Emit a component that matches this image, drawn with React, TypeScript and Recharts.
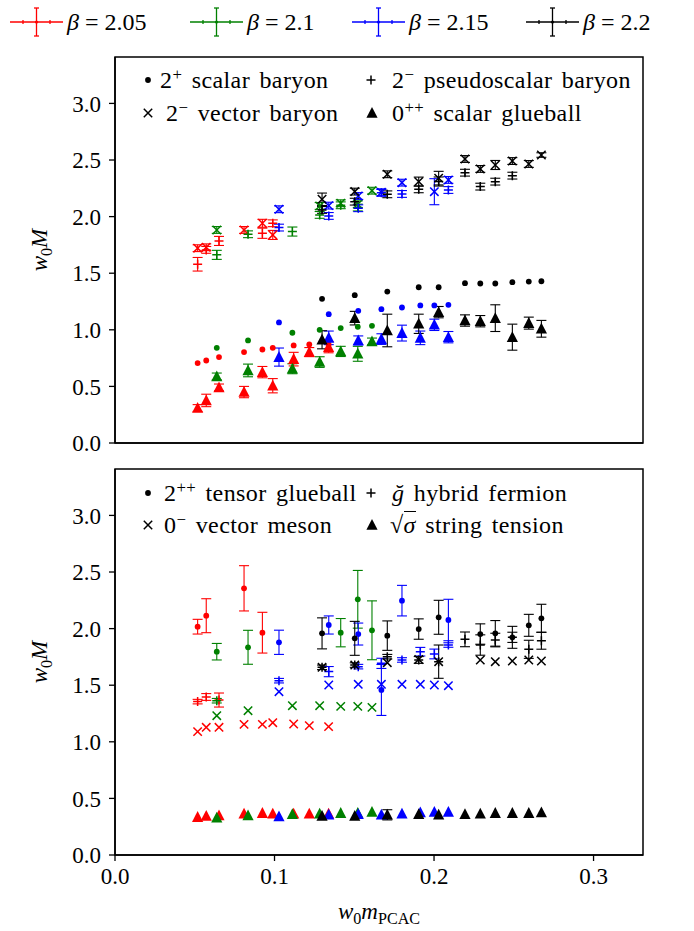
import type { ReactNode } from "react";
import { ComposedChart, Scatter, XAxis, YAxis, ErrorBar, ReferenceArea } from "recharts";

type Pt = [number, number] | null; // [value, error]
type Kind = "circle" | "plus" | "cross" | "tri";

const SERIF = '"Liberation Serif", "Times New Roman", serif';
const FS = 23;
const LEGEND_FS = 24;

const X_MAX = 0.331;
const Y_MAX = 3.41;
const xTicks = [0, 0.1, 0.2, 0.3];
const yTicks = [0, 0.5, 1, 1.5, 2, 2.5, 3];

const betaLabels = ["2.05", "2.1", "2.15", "2.2"];
const betaColors = ["#ff0000", "#008000", "#0000ff", "#000000"];

// w0 * m_PCAC of each ensemble
const mpcac205 = [0.0518, 0.0572, 0.0652, 0.0809, 0.0924, 0.0989, 0.112, 0.1218, 0.1339];
const mpcac210 = [0.0638, 0.0834, 0.1112, 0.1283, 0.1415, 0.1522, 0.1611];
const mpcac215 = [0.1028, 0.134, 0.1525, 0.167, 0.1799, 0.1914, 0.2002, 0.209];
const mpcac220 = [0.1298, 0.1503, 0.1707, 0.1904, 0.2029, 0.2194, 0.229, 0.2384, 0.2491, 0.2594, 0.2673];

// beta = 2.05
const scalarBaryon205: Pt[] = [[0.706, 0], [0.729, 0], [0.759, 0], [0.803, 0], [0.826, 0], [0.841, 0], [0.862, 0], [0.871, 0], [0.87, 0]];
const pseudoBaryon205: Pt[] = [[1.579, 0.06], [1.706, 0.03], [1.785, 0.04], null, [1.853, 0.045], [1.941, 0.03], null, null, null];
const vectorBaryon205: Pt[] = [[1.721, 0.03], [1.729, 0.03], null, [1.882, 0.03], [1.941, 0.035], [1.838, 0.04], null, null, null];
const scalarGlue205: Pt[] = [[0.309, 0.03], [0.376, 0.055], [0.491, 0.03], [0.45, 0.05], [0.626, 0.05], [0.506, 0.063], [0.741, 0.06], [0.803, 0.04], [0.847, 0.05]];
const tensorGlue205: Pt[] = [[2.017, 0.065], [2.114, 0.15], null, [2.356, 0.2], [1.964, 0.18], null, null, null, null];
const hybrid205: Pt[] = [[1.355, 0.02], [1.396, 0.03], [1.369, 0.062], null, null, null, null, null, null];
const vectorMeson205: Pt[] = [[1.09, 0], [1.128, 0], [1.128, 0], [1.154, 0], [1.154, 0], [1.169, 0], [1.157, 0], [1.143, 0], [1.134, 0]];
const stringTension205: Pt[] = [[0.335, 0], [0.345, 0], [0.35, 0], [0.365, 0], [0.37, 0], [0.365, 0], [0.365, 0], [0.365, 0], [0.365, 0]];

// beta = 2.1
const scalarBaryon210: Pt[] = [[0.841, 0], [0.906, 0], [0.974, 0], [1.0, 0], [1.015, 0], [1.026, 0], [1.035, 0]];
const pseudoBaryon210: Pt[] = [[1.662, 0.04], [1.844, 0.03], [1.868, 0.04], [2.015, 0.03], [2.1, 0.03], [2.08, 0.03], null];
const vectorBaryon210: Pt[] = [[1.882, 0.03], null, null, [2.094, 0.03], [2.118, 0.03], [2.109, 0.03], [2.229, 0.03]];
const scalarGlue210: Pt[] = [[0.588, 0.03], [0.641, 0.056], [0.656, 0.044], [0.715, 0.047], [0.809, 0.045], [0.788, 0.066], [0.897, 0.03]];
const tensorGlue210: Pt[] = [[1.796, 0.073], [1.835, 0.15], null, null, [1.964, 0.125], [2.259, 0.255], [1.985, 0.26]];
const hybrid210: Pt[] = [[1.363, 0.02], null, null, null, null, null, null];
const vectorMeson210: Pt[] = [[1.231, 0], [1.275, 0], [1.319, 0], [1.319, 0], [1.313, 0], [1.313, 0], [1.304, 0]];
const stringTension210: Pt[] = [[0.33, 0], [0.35, 0], [0.36, 0], [0.365, 0], [0.37, 0], [0.37, 0], [0.38, 0]];

// beta = 2.15
const scalarBaryon215: Pt[] = [[1.065, 0], [1.138, 0], [1.168, 0], [1.182, 0], [1.197, 0], [1.215, 0], [1.215, 0], [1.221, 0]];
const pseudoBaryon215: Pt[] = [[1.903, 0.03], [2.006, 0.03], [2.074, 0.03], [2.21, 0.03], [2.2, 0.03], null, null, [2.235, 0.03]];
const vectorBaryon215: Pt[] = [[2.065, 0.03], [2.097, 0.03], [2.182, 0.03], [2.215, 0.03], [2.3, 0.03], null, [2.22, 0.115], [2.324, 0.03]];
const scalarGlue215: Pt[] = [[0.759, 0.08], [0.929, 0.06], [0.906, 0.04], [0.918, 0.047], [0.971, 0.07], [0.929, 0.06], [1.044, 0.05], [0.935, 0.05]];
const tensorGlue215: Pt[] = [[1.879, 0.107], [2.032, 0.08], [1.952, 0.097], [1.458, 0.225], [2.247, 0.135], null, null, [2.076, 0.183]];
const hybrid215: Pt[] = [[1.54, 0.02], [1.62, 0.045], [1.664, 0.02], [1.693, 0.045], [1.723, 0.02], [1.796, 0.038], [1.776, 0.043], [1.855, 0.02]];
const vectorMeson215: Pt[] = [[1.443, 0], [1.502, 0], [1.508, 0], [1.508, 0], [1.508, 0], [1.508, 0], [1.502, 0], [1.496, 0]];
const stringTension215: Pt[] = [[0.34, 0], [0.355, 0], [0.36, 0], [0.355, 0], [0.365, 0], [0.375, 0], [0.38, 0], [0.38, 0]];

// beta = 2.2
const scalarBaryon220: Pt[] = [[1.274, 0], [1.306, 0], [1.338, 0], [1.376, 0], [1.376, 0], [1.412, 0], [1.409, 0], [1.409, 0], [1.421, 0], [1.426, 0], [1.429, 0]];
const pseudoBaryon220: Pt[] = [[2.059, 0.03], [2.132, 0.03], [2.197, 0.03], [2.241, 0.03], [2.31, 0.04], [2.388, 0.03], [2.265, 0.03], [2.309, 0.03], [2.362, 0.03], null, null];
const vectorBaryon220: Pt[] = [[2.153, 0.055], [2.221, 0.03], [2.374, 0.03], [2.309, 0.04], [2.34, 0.06], [2.509, 0.03], [2.421, 0.03], [2.456, 0.04], [2.491, 0.03], [2.465, 0.03], [2.544, 0.02]];
const scalarGlue220: Pt[] = [[0.912, 0.08], [1.103, 0.06], [0.994, 0.144], [1.053, 0.085], [1.156, 0.05], [1.082, 0.05], [1.076, 0.05], [1.103, 0.118], [0.935, 0.115], [1.059, 0.053], [1.009, 0.074]];
const tensorGlue220: Pt[] = [[1.958, 0.137], [1.914, 0.15], [1.938, 0.13], [1.996, 0.09], [2.1, 0.15], null, [1.952, 0.09], [1.958, 0.113], [1.923, 0.097], [2.029, 0.097], [2.091, 0.124]];
const hybrid220: Pt[] = [[1.658, 0.02], [1.678, 0.02], [1.752, 0.02], [1.723, 0.03], [1.708, 0.147], [1.905, 0.065], [1.855, 0.09], [1.899, 0.06], [1.923, 0.045], [1.817, 0.08], [1.893, 0.075]];
const vectorMeson220: Pt[] = [[1.658, 0], [1.678, 0], [1.699, 0], [1.728, 0], [1.708, 0], null, [1.723, 0], [1.708, 0], [1.714, 0], [1.723, 0], [1.714, 0]];
const stringTension220: Pt[] = [[0.345, 0], [0.345, 0], [0.355, 0.045], [0.36, 0], [0.355, 0], [0.36, 0], [0.365, 0], [0.37, 0], [0.37, 0], [0.37, 0], [0.375, 0]];

const mpcac = [mpcac205, mpcac210, mpcac215, mpcac220];

const topSets: { kind: Kind; values: Pt[][] }[] = [
  { kind: "circle", values: [scalarBaryon205, scalarBaryon210, scalarBaryon215, scalarBaryon220] },
  { kind: "plus", values: [pseudoBaryon205, pseudoBaryon210, pseudoBaryon215, pseudoBaryon220] },
  { kind: "cross", values: [vectorBaryon205, vectorBaryon210, vectorBaryon215, vectorBaryon220] },
  { kind: "tri", values: [scalarGlue205, scalarGlue210, scalarGlue215, scalarGlue220] },
];

const bottomSets: { kind: Kind; values: Pt[][] }[] = [
  { kind: "circle", values: [tensorGlue205, tensorGlue210, tensorGlue215, tensorGlue220] },
  { kind: "plus", values: [hybrid205, hybrid210, hybrid215, hybrid220] },
  { kind: "cross", values: [vectorMeson205, vectorMeson210, vectorMeson215, vectorMeson220] },
  { kind: "tri", values: [stringTension205, stringTension210, stringTension215, stringTension220] },
];

type Series = { key: string; kind: Kind; color: string; points: { x: number; y: number; err: number }[] };

function buildSeries(sets: { kind: Kind; values: Pt[][] }[]): Series[] {
  const out: Series[] = [];
  betaColors.forEach((color, b) => {
    sets.forEach((set) => {
      const points = set.values[b]
        .map((v, i) => (v ? { x: mpcac[b][i], y: v[0], err: v[1] } : null))
        .filter((p): p is { x: number; y: number; err: number } => p !== null);
      out.push({ key: `${set.kind}-${b}`, kind: set.kind, color, points });
    });
  });
  return out;
}

function Marker({ kind, cx, cy, color }: { kind: Kind; cx: number; cy: number; color: string }) {
  if (cx == null || cy == null) return <g />;
  switch (kind) {
    case "circle":
      return <circle cx={cx} cy={cy} r={2.9} fill={color} />;
    case "plus":
      return (
        <path d={`M${cx - 4.5},${cy}H${cx + 4.5}M${cx},${cy - 4.5}V${cy + 4.5}`} stroke={color} strokeWidth={1.5} fill="none" />
      );
    case "cross":
      return (
        <path
          d={`M${cx - 4.2},${cy - 4.2}L${cx + 4.2},${cy + 4.2}M${cx - 4.2},${cy + 4.2}L${cx + 4.2},${cy - 4.2}`}
          stroke={color}
          strokeWidth={1.5}
          fill="none"
        />
      );
    default:
      return <path d={`M${cx},${cy - 6}L${cx + 5.6},${cy + 4.8}L${cx - 5.6},${cy + 4.8}Z`} fill={color} />;
  }
}

const tickStyle = { fill: "#000", fontSize: FS, fontFamily: SERIF };

function Panel({ series, height, marginTop, axisHeight, labels }: {
  series: Series[];
  height: number;
  marginTop: number;
  axisHeight: number;
  labels: boolean;
}) {
  return (
    <ComposedChart width={694} height={height} margin={{ top: marginTop, right: 51, bottom: 0, left: 0 }}>
      <XAxis
        type="number"
        dataKey="x"
        domain={[0, X_MAX]}
        ticks={xTicks}
        allowDataOverflow
        height={axisHeight}
        tickSize={6}
        tickMargin={7}
        tick={labels ? tickStyle : false}
        tickFormatter={(v: number) => v.toFixed(1)}
        axisLine={{ stroke: "#000", strokeWidth: 1.5 }}
        tickLine={{ stroke: "#000", strokeWidth: 1.3 }}
      />
      <YAxis
        type="number"
        dataKey="y"
        domain={[0, Y_MAX]}
        ticks={yTicks}
        allowDataOverflow
        width={115}
        tickSize={6}
        tickMargin={8}
        tick={tickStyle}
        tickFormatter={(v: number) => v.toFixed(1)}
        axisLine={{ stroke: "#000", strokeWidth: 1.5 }}
        tickLine={{ stroke: "#000", strokeWidth: 1.3 }}
      />
      <ReferenceArea x1={0} x2={X_MAX} y1={0} y2={Y_MAX} fill="none" stroke="#000" strokeWidth={1.5} />
      {series.map((s) => (
        <Scatter
          key={s.key}
          data={s.points}
          isAnimationActive={false}
          shape={(p: any) => <Marker kind={s.kind} cx={p.cx} cy={p.cy} color={s.color} />}
        >
          {s.points.some((p) => p.err > 0) && (
            <ErrorBar dataKey="err" direction="y" width={5} stroke={s.color} strokeWidth={1.1} isAnimationActive={false} />
          )}
        </Scatter>
      ))}
    </ComposedChart>
  );
}

function LegendItem({ kind, x, y, textX, children }: { kind: Kind; x: number; y: number; textX: number; children: ReactNode }) {
  return (
    <>
      <svg style={{ position: "absolute", left: x - 8, top: y - 8 }} width={16} height={16}>
        <Marker kind={kind} cx={8} cy={8} color="#000" />
      </svg>
      <div
        style={{
          position: "absolute",
          left: textX,
          top: y,
          transform: "translateY(-50%)",
          fontFamily: SERIF,
          fontSize: LEGEND_FS,
          letterSpacing: 0.4,
          wordSpacing: 3,
          lineHeight: 1,
          whiteSpace: "nowrap",
        }}
      >
        {children}
      </div>
    </>
  );
}

const sup = { fontSize: "0.7em", position: "relative" as const, top: "-0.45em" };
const sub = { fontSize: "0.7em", position: "relative" as const, top: "0.3em" };

function W0M({ left, top }: { left: number; top: number }) {
  return (
    <div
      style={{
        position: "absolute",
        left,
        top,
        transform: "translate(-50%, -50%) rotate(-90deg)",
        fontFamily: SERIF,
        fontSize: FS,
        whiteSpace: "nowrap",
      }}
    >
      <i>w</i>
      <span style={sub}>0</span>
      <i>M</i>
    </div>
  );
}

export default function App() {
  const topSeries = buildSeries(topSets);
  const bottomSeries = buildSeries(bottomSets);
  const handleX = [10, 190, 352, 526];

  return (
    <div style={{ position: "absolute", left: 0, top: 0, width: 694, height: 931, background: "#fff", overflow: "hidden" }}>
      <svg style={{ position: "absolute", left: 0, top: 0 }} width={694} height={48}>
        {betaLabels.map((lab, i) => {
          const x0 = handleX[i];
          const c = betaColors[i];
          const mid = x0 + 26.5;
          return (
            <g key={lab}>
              <line x1={x0} x2={x0 + 53} y1={22} y2={22} stroke={c} strokeWidth={1.3} />
              <line x1={mid} x2={mid} y1={8} y2={36} stroke={c} strokeWidth={1.3} />
              <line x1={mid - 2.5} x2={mid + 2.5} y1={8} y2={8} stroke={c} strokeWidth={1.3} />
              <line x1={mid - 2.5} x2={mid + 2.5} y1={36} y2={36} stroke={c} strokeWidth={1.3} />
              <line x1={x0 + 13} x2={x0 + 13} y1={20} y2={24} stroke={c} strokeWidth={1.3} />
              <line x1={x0 + 40} x2={x0 + 40} y1={20} y2={24} stroke={c} strokeWidth={1.3} />
              <circle cx={mid} cy={22} r={1.6} fill={c} />
              <text x={x0 + 57} y={22} dominantBaseline="central" fontFamily={SERIF} fontSize={FS + 1}>
                <tspan fontStyle="italic">β</tspan>
                <tspan> = {lab}</tspan>
              </text>
            </g>
          );
        })}
      </svg>

      <div style={{ position: "absolute", left: 0, top: 0 }}>
        <Panel series={topSeries} height={460} marginTop={57} axisHeight={17} labels={false} />
      </div>
      <div style={{ position: "absolute", left: 0, top: 450 }}>
        <Panel series={bottomSeries} height={481} marginTop={19} axisHeight={76} labels={true} />
      </div>

      <LegendItem kind="circle" x={148} y={80} textX={160}>
        2<span style={sup}>+</span> scalar baryon
      </LegendItem>
      <LegendItem kind="plus" x={371} y={80} textX={392}>
        2<span style={sup}>−</span> pseudoscalar baryon
      </LegendItem>
      <LegendItem kind="cross" x={148} y={113} textX={166}>
        2<span style={sup}>−</span> vector baryon
      </LegendItem>
      <LegendItem kind="tri" x={372} y={113} textX={392}>
        0<span style={sup}>++</span> scalar glueball
      </LegendItem>

      <LegendItem kind="circle" x={148} y={493} textX={164}>
        2<span style={sup}>++</span> tensor glueball
      </LegendItem>
      <LegendItem kind="plus" x={371} y={493} textX={392}>
        <i>ğ</i> hybrid fermion
      </LegendItem>
      <LegendItem kind="cross" x={148} y={525} textX={164}>
        0<span style={sup}>−</span> vector meson
      </LegendItem>
      <LegendItem kind="tri" x={372} y={525} textX={390}>
        √<span style={{ borderTop: "1.2px solid #000", fontStyle: "italic" }}>σ</span> string tension
      </LegendItem>

      <W0M left={40} top={250} />
      <W0M left={40} top={662} />

      <div
        style={{
          position: "absolute",
          left: 379,
          top: 912,
          transform: "translate(-50%, -50%)",
          fontFamily: SERIF,
          fontSize: FS,
          whiteSpace: "nowrap",
        }}
      >
        <i>w</i>
        <span style={sub}>0</span>
        <i>m</i>
        <span style={sub}>PCAC</span>
      </div>
    </div>
  );
}
